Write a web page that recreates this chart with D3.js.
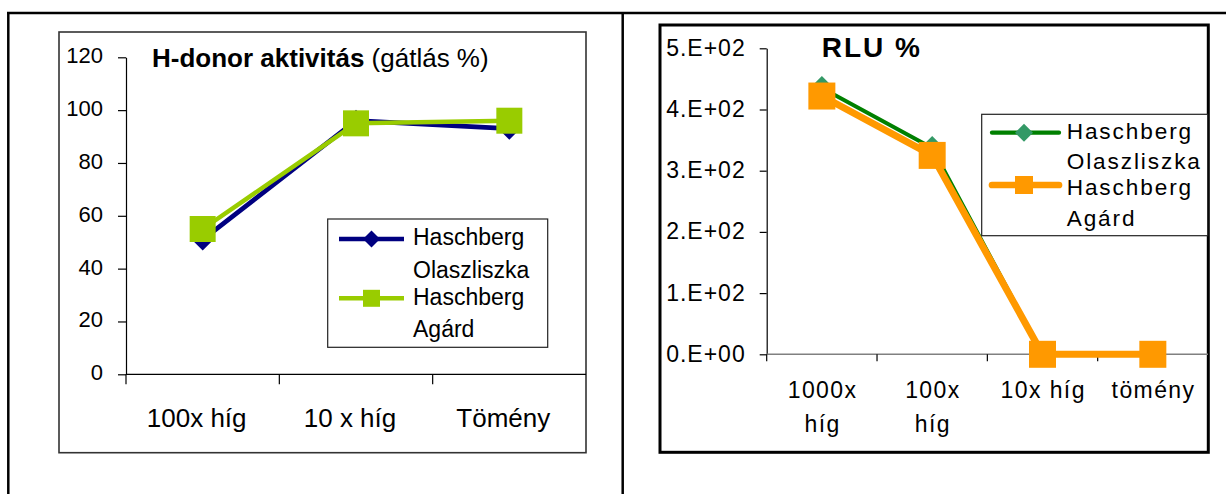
<!DOCTYPE html>
<html><head><meta charset="utf-8">
<script src="https://cdn.jsdelivr.net/npm/d3@7"></script>
<style>
html,body{margin:0;padding:0;background:#fff;}
svg{display:block;font-family:"Liberation Sans",Arial,Helvetica,sans-serif;}
</style></head><body>
<svg id="c" width="1226" height="494"></svg>
<script>
// ---------- data ----------
const leftCategories = ["100x híg", "10 x híg", "Tömény"];
const leftSeriesNames = [["Haschberg", "Olaszliszka"], ["Haschberg", "Agárd"]];
const leftOlaszliszka = [51, 96, 93];
const leftAgard = [55, 95, 96];
const leftYTicks = [0, 20, 40, 60, 80, 100, 120];
const leftTitleBold = "H-donor aktivitás";
const leftTitleNormal = " (gátlás %)";

const rightCategories = [["1000x", "híg"], ["100x", "híg"], ["10x híg"], ["tömény"]];
const rightSeriesNames = [["Haschberg", "Olaszliszka"], ["Haschberg", "Agárd"]];
const rightOlaszliszka = [435, 337, 0, 0];
const rightAgard = [422, 325, 0, 0];
const rightYTicks = [0, 100, 200, 300, 400, 500];
const rightYTickLabels = ["0.E+00", "1.E+02", "2.E+02", "3.E+02", "4.E+02", "5.E+02"];
const rightTitle = "RLU %";

// ---------- page frame ----------
const svg = d3.select("#c");
svg.append("line").attr("x1", 7).attr("x2", 1226).attr("y1", 13).attr("y2", 13)
  .attr("stroke", "#000").attr("stroke-width", 2.5);
svg.append("line").attr("x1", 8.3).attr("x2", 8.3).attr("y1", 12).attr("y2", 494)
  .attr("stroke", "#000").attr("stroke-width", 2.5);
svg.append("line").attr("x1", 622.7).attr("x2", 622.7).attr("y1", 12).attr("y2", 494)
  .attr("stroke", "#000").attr("stroke-width", 2.5);

const diamond = r => `M0,${-r}L${r},0L0,${r}L${-r},0Z`;
const square = s => `M${-s/2},${-s/2}h${s}v${s}h${-s}Z`;

// ================= LEFT CHART =================
(function () {
  const g = svg.append("g");
  g.append("rect").attr("x", 59).attr("y", 32).attr("width", 527).attr("height", 420.7)
    .attr("fill", "#fff").attr("stroke", "#333").attr("stroke-width", 1.6);

  const x = d3.scaleBand().domain(leftCategories).range([126, 586]);
  const y = d3.scaleLinear().domain([0, 120]).range([374.3, 57.3]);
  const cx = c => x(c) + x.bandwidth() / 2;

  // y axis
  const ya = g.append("g").attr("transform", "translate(126,0)")
    .call(d3.axisLeft(y).tickValues(leftYTicks).tickSize(8).tickSizeOuter(0).tickPadding(15));
  ya.select(".domain").attr("stroke", "#000").attr("stroke-width", 1.2);
  ya.selectAll(".tick line").attr("stroke", "#000").attr("stroke-width", 1.2);
  ya.selectAll(".tick text").attr("font-size", 22).attr("fill", "#000")
    .attr("font-family", "Liberation Sans, Arial, sans-serif").attr("dy", "0.25em");

  // x axis
  g.append("line").attr("x1", 126).attr("x2", 586).attr("y1", y(0)).attr("y2", y(0))
    .attr("stroke", "#000").attr("stroke-width", 1.3);
  g.selectAll(".xt").data(leftCategories).join("line").attr("class", "xt")
    .attr("x1", d => x(d)).attr("x2", d => x(d)).attr("y1", y(0)).attr("y2", y(0) + 10)
    .attr("stroke", "#000").attr("stroke-width", 1.2);
  g.selectAll(".xl").data(leftCategories).join("text").attr("class", "xl")
    .attr("x", d => cx(d) - 6).attr("y", y(0) + 52.4).attr("text-anchor", "middle")
    .attr("font-size", 26).attr("fill", "#000").text(d => d);

  // title
  const t = g.append("text").attr("x", 152).attr("y", 66.7).attr("font-size", 26).attr("fill", "#000");
  t.append("tspan").attr("font-weight", "bold").text(leftTitleBold);
  t.append("tspan").text(leftTitleNormal);

  // series
  const line = d3.line().x((d, i) => cx(leftCategories[i])).y(d => y(d));
  g.append("path").datum(leftOlaszliszka).attr("d", line).attr("fill", "none")
    .attr("stroke", "#000080").attr("stroke-width", 4.8).attr("stroke-linejoin", "round");
  g.selectAll(".m1").data(leftOlaszliszka).join("path").attr("class", "m1")
    .attr("d", diamond(11)).attr("fill", "#000080")
    .attr("transform", (d, i) => `translate(${cx(leftCategories[i])},${y(d)})`);
  g.append("path").datum(leftAgard).attr("d", line).attr("fill", "none")
    .attr("stroke", "#99CC00").attr("stroke-width", 4.5).attr("stroke-linejoin", "round");
  g.selectAll(".m2").data(leftAgard).join("path").attr("class", "m2")
    .attr("d", square(26)).attr("fill", "#99CC00")
    .attr("transform", (d, i) => `translate(${cx(leftCategories[i])},${y(d)})`);

  // legend
  const lg = g.append("g");
  lg.append("rect").attr("x", 327.7).attr("y", 219).attr("width", 220).attr("height", 128.3)
    .attr("fill", "#fff").attr("stroke", "#222").attr("stroke-width", 1.2);
  const ly = [239, 298.3];
  const cols = ["#000080", "#99CC00"];
  lg.selectAll(".ll").data(leftSeriesNames).join("line").attr("class", "ll")
    .attr("x1", 339).attr("x2", 404).attr("y1", (d, i) => ly[i]).attr("y2", (d, i) => ly[i])
    .attr("stroke", (d, i) => cols[i]).attr("stroke-width", 4.5);
  lg.append("path").attr("d", diamond(8.5)).attr("fill", cols[0]).attr("transform", `translate(371.5,${ly[0]})`);
  lg.append("path").attr("d", square(17)).attr("fill", cols[1]).attr("transform", `translate(371.5,${ly[1]})`);
  const lbase = [[245, 278], [304.6, 337.3]];
  leftSeriesNames.forEach((nm, i) => {
    nm.forEach((w, j) => {
      lg.append("text").attr("x", 413).attr("y", lbase[i][j]).attr("font-size", 23)
        .attr("fill", "#000").text(w);
    });
  });
})();

// ================= RIGHT CHART =================
(function () {
  const g = svg.append("g");
  g.append("rect").attr("x", 660).attr("y", 25).attr("width", 548.3).attr("height", 427.3)
    .attr("fill", "#fff").attr("stroke", "#000").attr("stroke-width", 3);

  const keys = rightCategories.map(d => d.join(" "));
  const x = d3.scaleBand().domain(keys).range([766.7, 1208]);
  const y = d3.scaleLinear().domain([0, 500]).range([354.3, 48.3]);
  const cx = k => x(k) + x.bandwidth() / 2;

  // y axis
  const ya = g.append("g").attr("transform", "translate(766.7,0)")
    .call(d3.axisLeft(y).tickValues(rightYTicks).tickSize(7).tickSizeOuter(0).tickPadding(14)
      .tickFormat((d, i) => rightYTickLabels[i]));
  ya.select(".domain").attr("stroke", "#000").attr("stroke-width", 1.2);
  ya.selectAll(".tick line").attr("stroke", "#000").attr("stroke-width", 1.2);
  ya.selectAll(".tick text").attr("font-size", 23).attr("fill", "#000")
    .attr("font-family", "Liberation Sans, Arial, sans-serif").attr("letter-spacing", 1)
    .attr("dy", "0.3em");

  // x axis
  g.append("line").attr("x1", 766.7).attr("x2", 1208).attr("y1", y(0)).attr("y2", y(0))
    .attr("stroke", "#808080").attr("stroke-width", 1.6);
  g.selectAll(".xt").data(keys).join("line").attr("class", "xt")
    .attr("x1", d => x(d)).attr("x2", d => x(d)).attr("y1", y(0)).attr("y2", y(0) + 7)
    .attr("stroke", "#000").attr("stroke-width", 1.2);
  rightCategories.forEach((lines, i) => {
    lines.forEach((w, j) => {
      g.append("text").attr("x", cx(keys[i]) + 0.7).attr("y", y(0) + 43.7 + j * 33.7)
        .attr("text-anchor", "middle").attr("font-size", 23).attr("letter-spacing", 1.4)
        .attr("fill", "#000").text(w);
    });
  });

  // title
  g.append("text").attr("x", 821.7).attr("y", 56.7).attr("font-size", 28).attr("font-weight", "bold")
    .attr("letter-spacing", 2).attr("fill", "#000").text(rightTitle);

  // series
  const line = d3.line().x((d, i) => cx(keys[i])).y(d => y(d));
  g.append("path").datum(rightOlaszliszka).attr("d", line).attr("fill", "none")
    .attr("stroke", "#008000").attr("stroke-width", 4).attr("stroke-linejoin", "round");
  g.selectAll(".m1").data(rightOlaszliszka).join("path").attr("class", "m1")
    .attr("d", diamond(12)).attr("fill", "#339966")
    .attr("transform", (d, i) => `translate(${cx(keys[i])},${y(d)})`);
  g.append("path").datum(rightAgard).attr("d", line).attr("fill", "none")
    .attr("stroke", "#FF9900").attr("stroke-width", 7).attr("stroke-linejoin", "round");
  g.selectAll(".m2").data(rightAgard).join("path").attr("class", "m2")
    .attr("d", square(27)).attr("fill", "#FF9900")
    .attr("transform", (d, i) => `translate(${cx(keys[i])},${y(d)})`);

  // legend
  const lg = g.append("g");
  lg.append("rect").attr("x", 981.7).attr("y", 114.3).attr("width", 226).attr("height", 121.4)
    .attr("fill", "#fff").attr("stroke", "#222").attr("stroke-width", 1.2);
  const ly = [132.7, 185];
  const cols = ["#008000", "#FF9900"];
  const widths = [4.3, 6.7];
  lg.selectAll(".ll").data(rightSeriesNames).join("line").attr("class", "ll")
    .attr("x1", 992).attr("x2", 1059).attr("y1", (d, i) => ly[i]).attr("y2", (d, i) => ly[i])
    .attr("stroke", (d, i) => cols[i]).attr("stroke-width", (d, i) => widths[i])
    .attr("stroke-linecap", "round");
  lg.append("path").attr("d", diamond(9)).attr("fill", "#339966").attr("transform", `translate(1024,${ly[0]})`);
  lg.append("path").attr("d", square(18)).attr("fill", cols[1]).attr("transform", `translate(1024,${ly[1]})`);
  const lbase = [[139.3, 169], [195.3, 226]];
  rightSeriesNames.forEach((nm, i) => {
    nm.forEach((w, j) => {
      lg.append("text").attr("x", 1066.7).attr("y", lbase[i][j]).attr("font-size", 22.6)
        .attr("letter-spacing", 1.9).attr("fill", "#000").text(w);
    });
  });
})();
</script>
</body></html>
